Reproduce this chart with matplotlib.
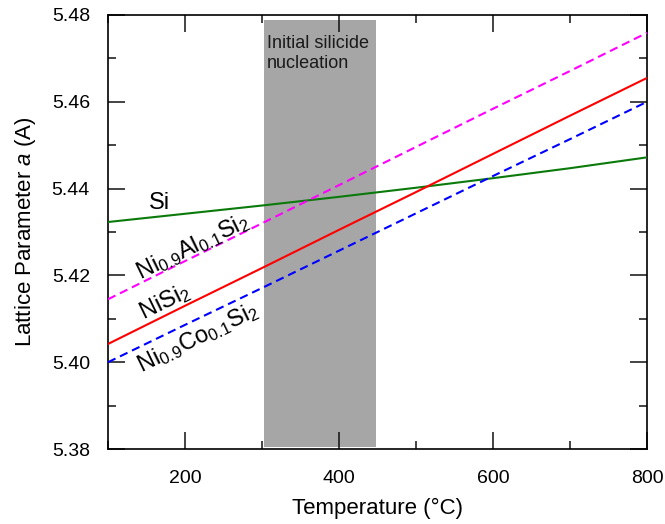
import numpy as np
import matplotlib
matplotlib.use('Agg')
import matplotlib.pyplot as plt
from matplotlib.ticker import MultipleLocator

plt.rcParams['font.family'] = ['Liberation Sans', 'DejaVu Sans']
plt.rcParams['mathtext.fontset'] = 'custom'
plt.rcParams['mathtext.rm'] = 'Liberation Sans'
plt.rcParams['mathtext.it'] = 'Liberation Sans:italic'
plt.rcParams['mathtext.default'] = 'regular'

# temperature (°C) and lattice parameters (A)
temp = [100, 200, 300, 400, 500, 600, 700, 800]
a_si = [5.4323, 5.4342, 5.4361, 5.4381, 5.4402, 5.4424, 5.4447, 5.4472]
a_nisi2 = [5.4042, 5.4130, 5.4217, 5.4305, 5.4392, 5.4480, 5.4568, 5.4655]
a_nial = [5.4145, 5.4233, 5.4320, 5.4408, 5.4496, 5.4584, 5.4671, 5.4759]
a_nico = [5.4000, 5.4086, 5.4171, 5.4257, 5.4343, 5.4429, 5.4514, 5.4600]

# nucleation window
nuc_x = [303, 448]
nuc_y = [5.3805, 5.4789]

fig = plt.figure(figsize=(6.65, 5.24), dpi=100)
ax = fig.add_axes([0.1624, 0.1431, 0.8106, 0.8283])

ax.fill_between(nuc_x, nuc_y[0], nuc_y[1], color='#a6a6a6', lw=0, zorder=1)
ax.text(nuc_x[0] + 3, 5.4755, 'Initial silicide\nnucleation', fontsize=13,
        va='top', ha='left', color='#1a1a1a', linespacing=1.3, zorder=2)

ax.plot(temp, a_si, color='#0a7a0a', lw=1.5, zorder=3)
ax.plot(temp, a_nisi2, color='#ff0000', lw=1.5, zorder=3)
ax.plot(temp, a_nial, color='#ff00ff', lw=1.5, ls=(0, (4, 2.4)), zorder=3)
ax.plot(temp, a_nico, color='#0000ff', lw=1.5, ls=(0, (4, 2.4)), zorder=3)

ax.text(167, 5.4366, 'Si', fontsize=17, ha='center', va='center')
ax.text(210, 5.4265, r'Ni$_{0.9}$Al$_{0.1}$Si$_2$', fontsize=17,
        ha='center', va='center', rotation=26)
ax.text(174, 5.4139, r'NiSi$_2$', fontsize=17, ha='center', va='center', rotation=26)
ax.text(217, 5.4056, r'Ni$_{0.9}$Co$_{0.1}$Si$_2$', fontsize=17,
        ha='center', va='center', rotation=26)

ax.set_xlim(100, 800)
ax.set_ylim(5.38, 5.48)
ax.xaxis.set_major_locator(MultipleLocator(200))
ax.xaxis.set_minor_locator(MultipleLocator(100))
ax.yaxis.set_major_locator(MultipleLocator(0.02))
ax.yaxis.set_minor_locator(MultipleLocator(0.01))
ax.yaxis.set_major_formatter(plt.FormatStrFormatter('%.2f'))
ax.tick_params(which='both', direction='in', top=True, right=True, width=1.1,
               labelsize=14, color='#111111')
ax.tick_params(which='major', length=12, pad=13)
ax.tick_params(which='minor', length=6)
ax.tick_params(axis='x', which='major', pad=15)
for s in ax.spines.values():
    s.set_linewidth(1.2)

ax.set_xlabel('Temperature (°C)', fontsize=16, labelpad=8)
ax.set_ylabel(r'Lattice Parameter $\it{a}$ (A)', fontsize=16, labelpad=10)

fig.savefig('out.png', dpi=100)
